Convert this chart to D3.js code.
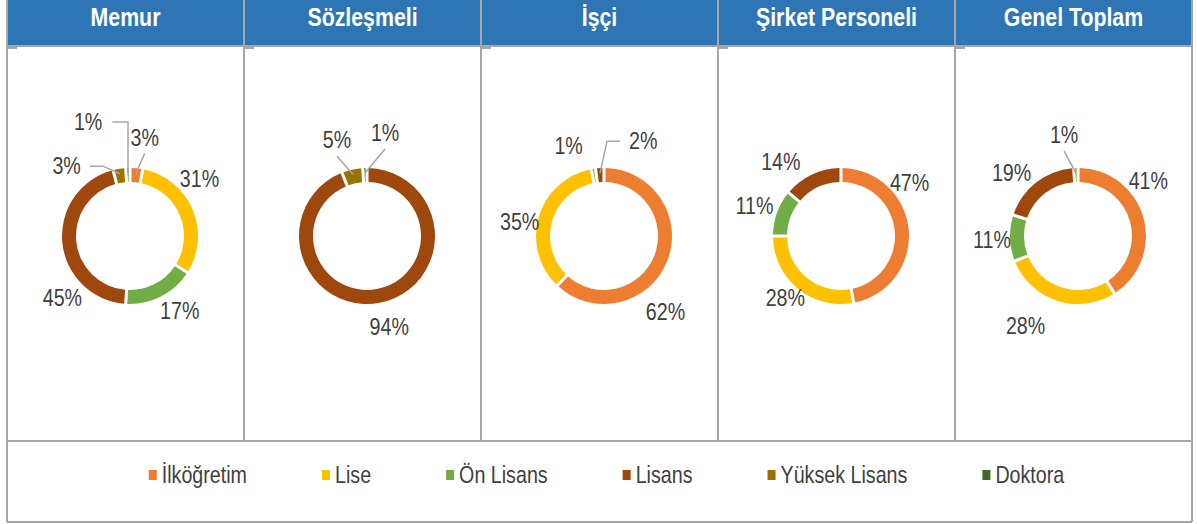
<!DOCTYPE html>
<html>
<head>
<meta charset="utf-8">
<script src="https://cdn.jsdelivr.net/npm/d3@7"></script>
<style>
  body { margin: 0; background: #fff; }
</style>
</head>
<body>
<div id="chart"></div>
<script>
var groups = ["Memur", "Sözleşmeli", "İşçi", "Şirket Personeli", "Genel Toplam"];
var categories = ["İlköğretim", "Lise", "Ön Lisans", "Lisans", "Yüksek Lisans", "Doktora"];
var colors = ["#ED7D31", "#FFC000", "#70AD47", "#9E480E", "#997300", "#43682B"];

// percent per category, same order as categories
var memur = [3, 31, 17, 45, 3, 1];
var sozlesmeli = [0, 0, 0, 94, 5, 1];
var isci = [62, 35, 1, 2, 0, 0];
var sirketPersoneli = [47, 28, 11, 14, 0, 0];
var genelToplam = [41, 28, 11, 19, 1, 0];

var series = [memur, sozlesmeli, isci, sirketPersoneli, genelToplam];

// label nudges from the default spot (dx, dy), per panel and category
var labelNudge = [
    [[6, -7], [-15, -21], [8, -7], [24, 53], [-49, 21], [-39, -22]],
    [null, null, null, [5, 0], [-10, -6], [21, -11]],
    [[-24, 42], [4, 11], [-21, 1], [45, -3], null, null],
    [[-23, -45], [3, -9], [0, 1], [-21, 9], null, null],
    [[-18, -30], [-24, 2], [6, 1], [-10, 9], [-11, -9], null]
];
// leader lines for small slices
var leaders = [{0: "v", 4: "h", 5: "hv"}, {4: "v", 5: "v"}, {3: "h"}, {}, {4: "v"}];

var W = 1197, H = 524;
var left = 7, right = 1192, headerH = 46, panelBottom = 441, boxBottom = 522;
var outerR = 68, innerR = 54, labelR = 92, cy = 236;
var grey = "#A6A6A6", textCol = "#404040";
var squeeze = 0.82;

var svg = d3.select("#chart").append("svg")
    .attr("width", W)
    .attr("height", H)
    .style("font-family", "'Liberation Sans', Arial, sans-serif");

var x = d3.scaleBand().domain(groups).range([left, right]);
var color = d3.scaleOrdinal().domain(categories).range(colors);

function addText(g, px, py, str, size, anchor) {
    return g.append("text")
        .attr("transform", "translate(" + px + "," + py + ") scale(" + squeeze + ",1)")
        .attr("text-anchor", anchor || "middle")
        .style("font-size", size + "px")
        .text(str);
}

// header band
svg.append("rect")
    .attr("x", left).attr("y", 0)
    .attr("width", right - left).attr("height", headerH)
    .attr("fill", "#2E75B6");

groups.forEach(function (grp) {
    addText(svg, x(grp) + x.bandwidth() / 2, 26, grp, 26)
        .attr("fill", "#fff")
        .style("font-weight", "bold");
});

// grid lines
var lines = svg.append("g").attr("stroke", grey).attr("stroke-width", 2);
lines.append("line").attr("x1", left).attr("x2", left).attr("y1", 0).attr("y2", boxBottom);
lines.append("line").attr("x1", right).attr("x2", right).attr("y1", 0).attr("y2", boxBottom);
groups.slice(1).forEach(function (grp) {
    lines.append("line").attr("x1", x(grp)).attr("x2", x(grp)).attr("y1", 0).attr("y2", panelBottom);
});
groups.forEach(function (grp) {
    lines.append("line").attr("x1", x(grp) + 1).attr("x2", x(grp) + 10)
        .attr("y1", headerH + 2).attr("y2", headerH + 2);
});
lines.append("line").attr("x1", left).attr("x2", right).attr("y1", headerH).attr("y2", headerH);
lines.append("line").attr("x1", left).attr("x2", right).attr("y1", panelBottom).attr("y2", panelBottom);
lines.append("line").attr("x1", left).attr("x2", right).attr("y1", boxBottom).attr("y2", boxBottom);

// donuts
var pie = d3.pie().sort(null).value(function (d) { return d; });
var arc = d3.arc().innerRadius(innerR).outerRadius(outerR).padAngle(0.045).padRadius(outerR);

function polar(a, r) { return [r * Math.sin(a), -r * Math.cos(a)]; }

series.forEach(function (vals, p) {
    var cx = x(groups[p]) + x.bandwidth() / 2 + 4.5;
    var g = svg.append("g").attr("transform", "translate(" + cx + "," + cy + ")");
    var arcs = pie(vals);

    g.selectAll("path")
        .data(arcs)
        .enter()
        .append("path")
        .attr("d", arc)
        .attr("fill", function (d, i) { return color(categories[i]); });

    arcs.forEach(function (d, i) {
        if (d.value <= 0) return;
        var mid = (d.startAngle + d.endAngle) / 2;
        var pos = polar(mid, labelR);
        var nudge = labelNudge[p][i] || [0, 0];
        var lx = pos[0] + nudge[0], ly = pos[1] + nudge[1];
        var t = addText(g, lx, ly, d.value + "%", 24)
            .attr("fill", textCol)
            .attr("dominant-baseline", "central");
        var w = t.node().getComputedTextLength() * squeeze;

        var type = leaders[p][i];
        if (!type) return;
        var sp = polar(mid, 63);
        var pts;
        if (type == "v") {
            pts = [sp, [lx, ly + 16]];
        } else if (type == "hv") {
            var side = lx < sp[0] ? 1 : -1;
            pts = [sp, [sp[0], ly], [lx + side * (w / 2 + 10), ly]];
        } else {
            var s = lx < sp[0] ? 1 : -1;
            var end = lx + s * (w / 2 + 9);
            pts = [sp, [end + s * 13, ly], [end, ly]];
        }
        g.append("path")
            .attr("d", d3.line()(pts))
            .attr("fill", "none")
            .attr("stroke", grey)
            .attr("stroke-width", 1.5);
    });
});

// legend
var legend = svg.append("g");
var items = categories.map(function (c) {
    var ig = legend.append("g");
    ig.append("rect")
        .attr("x", 0).attr("y", -5)
        .attr("width", 8).attr("height", 10)
        .attr("fill", color(c));
    var t = addText(ig, 13, 0, c, 24, "start")
        .attr("fill", textCol)
        .attr("dominant-baseline", "central");
    return { g: ig, w: 13 + t.node().getComputedTextLength() * squeeze };
});
var gap = 75;
var total = d3.sum(items, function (d) { return d.w; }) + gap * (items.length - 1);
var lx0 = (left + right) / 2 + 7 - total / 2;
items.forEach(function (it) {
    it.g.attr("transform", "translate(" + lx0 + ",475)");
    lx0 += it.w + gap;
});
</script>
</body>
</html>
